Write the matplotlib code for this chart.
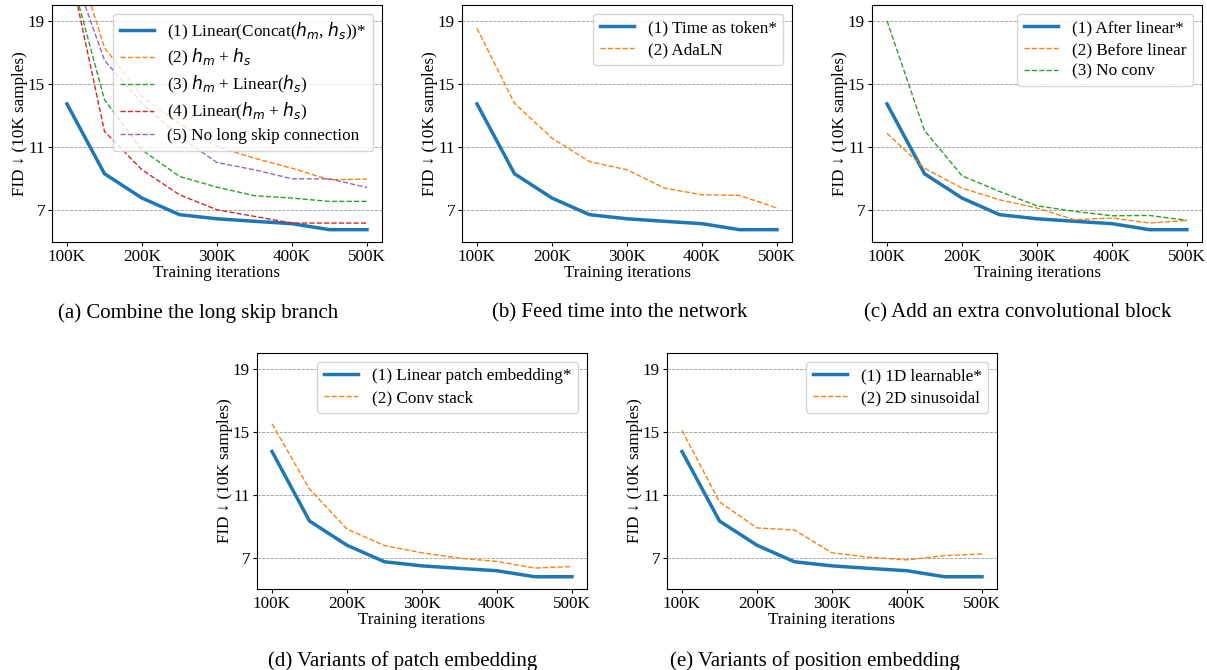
import matplotlib
matplotlib.use("Agg")
import matplotlib.pyplot as plt

plt.rcParams['font.family'] = ['Liberation Serif', 'DejaVu Serif']
plt.rcParams['font.size'] = 12.3

iters = [100, 150, 200, 250, 300, 350, 400, 450, 500]
xtick_labels = ['100K', '200K', '300K', '400K', '500K']
xticks = [100, 200, 300, 400, 500]
yticks = [7, 11, 15, 19]

base = [13.74, 9.32, 7.78, 6.73, 6.47, 6.31, 6.16, 5.78, 5.78]

# (a)
a_sum = [24.8, 17.3, 14.2, 12.5, 11.04, 10.3, 9.67, 8.94, 8.98]
a_lin_s = [22.8, 14.0, 10.83, 9.15, 8.47, 7.93, 7.78, 7.57, 7.57]
a_lin_sum = [23.1, 12.0, 9.57, 7.99, 7.04, 6.62, 6.2, 6.2, 6.2]
a_noskip = [23.2, 16.5, 13.78, 11.67, 10.03, 9.57, 9.0, 9.0, 8.45]
# (b)
b_adaln = [18.52, 13.78, 11.57, 10.09, 9.57, 8.41, 7.99, 7.95, 7.15]
# (c)
c_before = [11.88, 9.67, 8.41, 7.67, 7.15, 6.41, 6.52, 6.2, 6.37]
c_noconv = [19.0, 12.05, 9.19, 8.2, 7.29, 6.94, 6.66, 6.68, 6.37]
# (d)
d_conv = [15.5, 11.35, 8.81, 7.76, 7.3, 6.96, 6.75, 6.33, 6.43]
# (e)
e_sin = [15.08, 10.54, 8.88, 8.75, 7.3, 7.02, 6.85, 7.12, 7.23]

C = ['#1f77b4', '#ff7f0e', '#2ca02c', '#d62728', '#9467bd']

panels = [
    ([(base, '(1) Linear(Concat($h_m$, $h_s$))*'),
      (a_sum, '(2) $h_m$ + $h_s$'),
      (a_lin_s, '(3) $h_m$ + Linear($h_s$)'),
      (a_lin_sum, '(4) Linear($h_m$ + $h_s$)'),
      (a_noskip, '(5) No long skip connection')],
     '(a) Combine the long skip branch'),
    ([(base, '(1) Time as token*'), (b_adaln, '(2) AdaLN')],
     '(b) Feed time into the network'),
    ([(base, '(1) After linear*'), (c_before, '(2) Before linear'), (c_noconv, '(3) No conv')],
     '(c) Add an extra convolutional block'),
    ([(base, '(1) Linear patch embedding*'), (d_conv, '(2) Conv stack')],
     '(d) Variants of patch embedding'),
    ([(base, '(1) 1D learnable*'), (e_sin, '(2) 2D sinusoidal')],
     '(e) Variants of position embedding'),
]

W, H = 1207, 670
fig = plt.figure(figsize=(W / 100, H / 100), dpi=100)

# axes boxes in pixels: left, top, right, bottom
boxes = [(52, 5, 382, 242), (462, 5, 792, 242), (872, 5, 1202, 242),
         (257, 353, 587, 589), (667, 353, 997, 589)]
cap_pos = [(198, 313), (620, 313), (1018, 313), (403, 661), (815, 661)]

for (series, caption), (l, t, r, b), (cx, cy) in zip(panels, boxes, cap_pos):
    ax = fig.add_axes([l / W, 1 - b / H, (r - l) / W, (b - t) / H])
    for i, (vals, lab) in enumerate(series):
        if i == 0:
            ax.plot(iters, vals, color=C[i], lw=2.5, label=lab)
        else:
            ax.plot(iters, vals, color=C[i], lw=1.0, ls='--', label=lab)
    ax.set_ylim(5, 20)
    ax.set_xticks(xticks)
    ax.set_xticklabels(xtick_labels)
    ax.set_yticks(yticks)
    ax.tick_params(length=3, pad=2)
    ax.grid(axis='y', color='gray', ls='--', lw=0.6, alpha=0.8)
    ax.set_xlabel('Training iterations', labelpad=0)
    ax.set_ylabel('FID ↓ (10K samples)', labelpad=0)
    ax.legend(loc='upper right', fontsize=12.3, labelspacing=0.33)
    fig.text(cx / W, 1 - cy / H, caption, ha='center', va='center', fontsize=15)

fig.savefig('out.png', dpi=100)
